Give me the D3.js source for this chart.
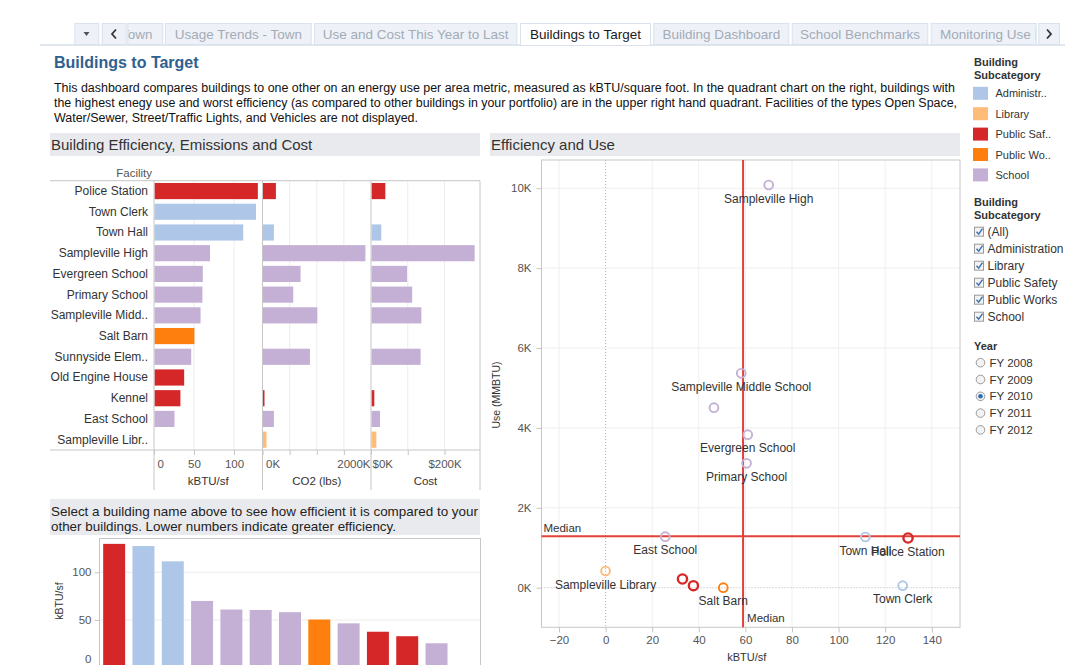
<!DOCTYPE html>
<html><head><meta charset="utf-8">
<script src="https://cdn.jsdelivr.net/npm/d3@7"></script>
<style>
html,body{margin:0;padding:0;background:#fff;overflow:hidden}
svg{display:block;font-family:"Liberation Sans",Arial,sans-serif}
</style></head><body>
<svg id="c" width="1065" height="665"></svg>
<script>
// ---------------- DATA ----------------
const facilities = ["Police Station","Town Clerk","Town Hall","Sampleville High","Evergreen School","Primary School","Sampleville Middle School","Salt Barn","Sunnyside Elementary","Old Engine House","Kennel","East School","Sampleville Library"];
const facilityLabels = ["Police Station","Town Clerk","Town Hall","Sampleville High","Evergreen School","Primary School","Sampleville Midd..","Salt Barn","Sunnyside Elem..","Old Engine House","Kennel","East School","Sampleville Libr.."];
const subcategories = ["Public Safety","Administration","Administration","School","School","School","School","Public Works","School","Public Safety","Public Safety","School","Library"];
const kbtuPerSf = [129.8,127.5,111.5,70,61,60.5,58.2,50.5,46.5,37.7,33,25.6,0];
const useMMBTU = [1244,50,1269,10080,3830,3114,5367,0,4506,50,218,1277,418];
const co2Klbs = [247,null,210,1897,702,567,1010,null,875,null,37,210,74];
const costK = [39,null,28,282,98,112,137,null,135,null,9,24.5,14.5];
const scatterLabeled = ["Sampleville High","Sampleville Middle School","Evergreen School","Primary School","East School","Town Hall","Police Station","Sampleville Library","Salt Barn","Town Clerk"];
const medianKbtu = 59;
const medianUse = 1290;

const categoryNames = ["Administration","Library","Public Safety","Public Works","School"];
const categoryLegendLabels = ["Administr..","Library","Public Saf..","Public Wo..","School"];
const categoryColors = ["#aec7e8","#ffbb78","#d62728","#ff7f0e","#c5b0d5"];
const filterItems = ["(All)","Administration","Library","Public Safety","Public Works","School"];
const yearItems = ["FY 2008","FY 2009","FY 2010","FY 2011","FY 2012"];
const selectedYear = "FY 2010";

const tabLabels = ["Town","Usage Trends - Town","Use and Cost This Year to Last","Buildings to Target","Building Dashboard","School Benchmarks","Monitoring Use I"];
const activeTab = "Buildings to Target";

const kbtuTicks = [0,50,100];
const kbtuGrid = [50,100];
const co2Ticks = [0,500,1000,1500,2000];
const co2Labeled = [0,2000];
const costTicks = [0,100,200];
const costLabeled = [0,200];
const scatterXTicks = [-20,0,20,40,60,80,100,120,140];
const scatterYTicks = [0,2000,4000,6000,8000,10000];
const bottomYTicks = [0,50,100];

const titleText = "Buildings to Target";
const descLines = [
 "This dashboard compares buildings to one other on an energy use per area metric, measured as kBTU/square foot. In the quadrant chart on the right, buildings with",
 "the highest enegy use and worst efficiency (as compared to other buildings in your portfolio) are in the upper right hand quadrant. Facilities of the types Open Space,",
 "Water/Sewer, Street/Traffic Lights, and Vehicles are not displayed."
];

// ---------------- SETUP ----------------
const svg = d3.select("#c");
const color = d3.scaleOrdinal(categoryNames, categoryColors);
const rows = facilities.map((f,i)=>({name:f,label:facilityLabels[i],cat:subcategories[i],kbtu:kbtuPerSf[i],use:useMMBTU[i],co2:co2Klbs[i],cost:costK[i]}));
const GRID="#ececec", FRAME="#c6c6c6", TXT="#333", TICK="#555";

// ---------------- TABS ----------------
const tabEdges = [[127.3,163.3],[165,311.7],[314,517.3],[520,651],[653.3,789.3],[791.7,928.3],[930.7,1036.7]];
const tabY0 = 23.5, tabY1 = 44.5;
svg.append("line").attr("x1",40).attr("x2",1065).attr("y1",45).attr("y2",45).attr("stroke","#e1e7ef").attr("stroke-width",2);
const defs = svg.append("defs");
[[74.3,99.3],[101.7,126.7],[1038.3,1060]].forEach(([a,b])=>{
  svg.append("rect").attr("x",a+0.5).attr("y",tabY0).attr("width",b-a-1).attr("height",tabY1-tabY0)
    .attr("fill","#eef2f8").attr("stroke","#dbe2ec");
});
svg.append("path").attr("d","M83.5,32 L89.5,32 L86.5,36 Z").attr("fill","#555");
svg.append("path").attr("d","M116,29.5 L112,34 L116,38.5").attr("fill","none").attr("stroke","#333").attr("stroke-width",1.8);
svg.append("path").attr("d","M1047,29.5 L1051,34 L1047,38.5").attr("fill","none").attr("stroke","#333").attr("stroke-width",1.8);
tabLabels.forEach((t,i)=>{
  const [a,b] = tabEdges[i];
  const active = t===activeTab;
  const cid = "tabclip"+i;
  defs.append("clipPath").attr("id",cid).append("rect").attr("x",a+1).attr("y",tabY0).attr("width",b-a-2).attr("height",tabY1-tabY0);
  svg.append("rect").attr("x",a+0.5).attr("y",tabY0).attr("width",b-a-1).attr("height",tabY1-tabY0+(active?1:0))
    .attr("fill",active?"#fff":"#eef2f8").attr("stroke","#dbe2ec");
  let tx, anchor;
  if(i===0){tx=121; anchor="start";}
  else if(i===tabLabels.length-1){tx=940; anchor="start";}
  else {tx=(a+b)/2; anchor="middle";}
  svg.append("text").attr("x",tx).attr("y",38.5).attr("text-anchor",anchor).attr("clip-path",`url(#${cid})`)
    .attr("font-size",13.5).attr("fill",active?"#1a1a1a":"#a3abb6").text(t);
});

// ---------------- TITLE & DESCRIPTION ----------------
svg.append("text").attr("x",54).attr("y",68).attr("font-size",16).attr("font-weight","bold").attr("fill","#2f6190").text(titleText);
const descLens=[901,903,364];
descLines.forEach((l,i)=>{
  svg.append("text").attr("x",54).attr("y",92+i*15).attr("font-size",12).attr("fill","#111")
    .attr("textLength",descLens[i]).attr("lengthAdjust","spacingAndGlyphs").text(l);
});

// ---------------- SECTION HEADERS ----------------
function band(x,y,w,h){svg.append("rect").attr("x",x).attr("y",y).attr("width",w).attr("height",h).attr("fill","#e9eaee");}
band(50,133,430,23);
svg.append("text").attr("x",51).attr("y",150).attr("font-size",15).attr("fill",TXT).text("Building Efficiency, Emissions and Cost");
band(490,133,470,23);
svg.append("text").attr("x",491).attr("y",150).attr("font-size",15).attr("fill",TXT).text("Efficiency and Use");

// ---------------- TOP TABLE (3 bar panes) ----------------
const rowTop=180.7, rowBot=450;
const yRow = d3.scaleBand().domain(facilities).range([rowTop,rowBot]).paddingInner(0.22).paddingOuter(0.11);
const xK = d3.scaleLinear().domain([0,135.6]).range([154,262.5]);
const xC = d3.scaleLinear().domain([0,2000]).range([262.5,371]);
const xCost = d3.scaleLinear().domain([0,296.5]).range([371,480]);

svg.append("text").attr("x",152).attr("y",177).attr("text-anchor","end").attr("font-size",11.5).attr("fill",TICK).text("Facility");

const gT = svg.append("g");
kbtuGrid.forEach(v=>gT.append("line").attr("x1",xK(v)).attr("x2",xK(v)).attr("y1",rowTop).attr("y2",rowBot).attr("stroke",GRID));
co2Ticks.filter(v=>v>0&&v<2000).forEach(v=>gT.append("line").attr("x1",xC(v)).attr("x2",xC(v)).attr("y1",rowTop).attr("y2",rowBot).attr("stroke",GRID));
costTicks.filter(v=>v>0).forEach(v=>gT.append("line").attr("x1",xCost(v)).attr("x2",xCost(v)).attr("y1",rowTop).attr("y2",rowBot).attr("stroke",GRID));

svg.append("g").selectAll("text").data(rows).join("text")
  .attr("x",148).attr("y",d=>yRow(d.name)+yRow.bandwidth()/2+4).attr("text-anchor","end")
  .attr("font-size",12).attr("fill",TXT).text(d=>d.label);

function paneBars(scale,key){
  svg.append("g").selectAll("rect").data(rows.filter(d=>d[key]!=null && d[key]>0)).join("rect")
    .attr("x",scale(0)+0.5).attr("y",d=>yRow(d.name)).attr("height",yRow.bandwidth())
    .attr("width",d=>Math.max(1.5,scale(d[key])-scale(0)-0.5)).attr("fill",d=>color(d.cat));
}
paneBars(xK,"kbtu"); paneBars(xC,"co2"); paneBars(xCost,"cost");

[[50,480,rowTop,rowTop],[50,480,rowBot,rowBot]].forEach(([x1,x2,y1,y2])=>svg.append("line").attr("x1",x1).attr("x2",x2).attr("y1",y1).attr("y2",y2).attr("stroke",FRAME));
[154,262.5,371,480].forEach(x=>svg.append("line").attr("x1",x).attr("x2",x).attr("y1",rowTop).attr("y2",490).attr("stroke",FRAME));

function paneAxis(scale,ticks,labeled,fmt){
  const g = svg.append("g").attr("transform",`translate(0,${rowBot})`)
    .call(d3.axisBottom(scale).tickValues(ticks).tickSize(5).tickPadding(5).tickFormat(v=>labeled.includes(v)?fmt(v):""));
  g.select(".domain").remove();
  g.selectAll(".tick line").attr("stroke",FRAME);
  g.selectAll(".tick text").attr("font-size",11.5).attr("fill",TICK).attr("font-family","Liberation Sans, Arial, sans-serif");
  return g;
}
const axK = paneAxis(xK,kbtuTicks,kbtuTicks,v=>String(v));
axK.selectAll(".tick text").filter(v=>v===0).attr("text-anchor","start").attr("dx",3);
const axC = paneAxis(xC,co2Ticks,co2Labeled,v=>v+"K");
axC.selectAll(".tick text").filter(v=>v===0).attr("text-anchor","start").attr("dx",3);
axC.selectAll(".tick text").filter(v=>v===2000).attr("text-anchor","end").attr("dx",-1);
const axCo = paneAxis(xCost,costTicks,costLabeled,v=>"$"+v+"K");
axCo.selectAll(".tick text").filter(v=>v===0).attr("text-anchor","start").attr("dx",1);
[["kBTU/sf",xK],["CO2 (lbs)",xC],["Cost",xCost]].forEach(([t,s])=>{
  const r=s.range();
  svg.append("text").attr("x",(r[0]+r[1])/2).attr("y",485).attr("text-anchor","middle").attr("font-size",11.5).attr("fill",TXT).text(t);
});

// ---------------- BOTTOM BAR CHART ----------------
band(50,499,430,36);
svg.append("text").attr("x",51).attr("y",516).attr("font-size",13.5).attr("fill","#222").attr("textLength",427).attr("lengthAdjust","spacingAndGlyphs").text("Select a building name above to see how efficient it is compared to your");
svg.append("text").attr("x",51).attr("y",530.5).attr("font-size",13.5).attr("fill","#222").attr("textLength",345).attr("lengthAdjust","spacingAndGlyphs").text("other buildings. Lower numbers indicate greater efficiency.");

const sorted = rows.slice().sort((a,b)=>b.kbtu-a.kbtu);
const xB = d3.scaleBand().domain(sorted.map(d=>d.name)).range([99.5,480.5]).paddingInner(0.25).paddingOuter(0.125);
const yB = d3.scaleLinear().domain([0,100]).range([667.7,572.3]);
bottomYTicks.filter(v=>v>0).forEach(v=>svg.append("line").attr("x1",99.5).attr("x2",480.5).attr("y1",yB(v)).attr("y2",yB(v)).attr("stroke",GRID));
svg.append("g").selectAll("rect").data(sorted.filter(d=>d.kbtu>0)).join("rect")
  .attr("x",d=>xB(d.name)).attr("width",xB.bandwidth()).attr("y",d=>yB(d.kbtu)).attr("height",d=>yB(0)-yB(d.kbtu)).attr("fill",d=>color(d.cat));
svg.append("rect").attr("x",99.5).attr("y",538.5).attr("width",381).attr("height",140).attr("fill","none").attr("stroke",FRAME);
const axB = svg.append("g").attr("transform","translate(99.5,0)").call(d3.axisLeft(yB).tickValues(bottomYTicks).tickSize(5).tickPadding(3));
axB.select(".domain").remove();
axB.selectAll(".tick line").attr("stroke",FRAME);
axB.selectAll(".tick text").attr("font-size",11.5).attr("fill",TICK).attr("font-family","Liberation Sans, Arial, sans-serif");
axB.selectAll(".tick text").filter(v=>v===0).attr("dy","-0.45em");
svg.append("text").attr("transform","translate(63,601) rotate(-90)").attr("text-anchor","middle").attr("font-size",10.5).attr("fill",TXT).text("kBTU/sf");

// ---------------- SCATTER ----------------
const sx0=541.5, sx1=960, sy0=160, sy1=627.3;
const xS = d3.scaleLinear().domain([-27.5,152.1]).range([sx0,sx1]);
const yS = d3.scaleLinear().domain([-991,10706]).range([sy1,sy0]);
const gS = svg.append("g");
scatterXTicks.filter(v=>v!==0).forEach(v=>gS.append("line").attr("x1",xS(v)).attr("x2",xS(v)).attr("y1",sy0).attr("y2",sy1).attr("stroke","#efefef"));
scatterYTicks.filter(v=>v!==0).forEach(v=>gS.append("line").attr("x1",sx0).attr("x2",sx1).attr("y1",yS(v)).attr("y2",yS(v)).attr("stroke","#efefef"));
gS.append("line").attr("x1",xS(0)).attr("x2",xS(0)).attr("y1",sy0).attr("y2",sy1).attr("stroke","#b5b5b5").attr("stroke-dasharray","1,2");
gS.append("line").attr("x1",sx0).attr("x2",sx1).attr("y1",yS(0)).attr("y2",yS(0)).attr("stroke","#b5b5b5").attr("stroke-dasharray","1,2");
gS.append("rect").attr("x",sx0).attr("y",sy0).attr("width",sx1-sx0).attr("height",sy1-sy0).attr("fill","none").attr("stroke",FRAME);

const axSX = svg.append("g").attr("transform",`translate(0,${sy1})`).call(d3.axisBottom(xS).tickValues(scatterXTicks).tickSize(5).tickPadding(4));
axSX.select(".domain").remove();
const axSY = svg.append("g").attr("transform",`translate(${sx0},0)`).call(d3.axisLeft(yS).tickValues(scatterYTicks).tickSize(5).tickPadding(5).tickFormat(v=>(v/1000)+"K"));
axSY.select(".domain").remove();
[axSX,axSY].forEach(a=>{a.selectAll(".tick line").attr("stroke",FRAME);a.selectAll(".tick text").attr("font-size",11.5).attr("fill",TICK).attr("font-family","Liberation Sans, Arial, sans-serif");});
svg.append("text").attr("x",(sx0+sx1)/2-4).attr("y",661).attr("text-anchor","middle").attr("font-size",11).attr("fill",TXT).text("kBTU/sf");
svg.append("text").attr("transform","translate(500,395) rotate(-90)").attr("text-anchor","middle").attr("font-size",10.5).attr("fill",TXT).text("Use (MMBTU)");

const MED="#e2403a";
svg.append("line").attr("x1",sx0).attr("x2",sx1).attr("y1",yS(medianUse)).attr("y2",yS(medianUse)).attr("stroke",MED).attr("stroke-width",2);
svg.append("line").attr("x1",xS(medianKbtu)).attr("x2",xS(medianKbtu)).attr("y1",sy0).attr("y2",sy1).attr("stroke",MED).attr("stroke-width",2);
svg.append("text").attr("x",sx0+2).attr("y",yS(medianUse)-4).attr("font-size",11.5).attr("fill",TXT).text("Median");
svg.append("text").attr("x",xS(medianKbtu)+4).attr("y",sy1-5).attr("font-size",11.5).attr("fill",TXT).text("Median");

svg.append("g").selectAll("circle").data(rows).join("circle")
  .attr("cx",d=>xS(d.kbtu)).attr("cy",d=>yS(d.use)).attr("r",d=>d.cat==="Public Safety"?4.6:4.4)
  .attr("fill","none").attr("stroke",d=>color(d.cat)).attr("stroke-width",d=>d.cat==="Public Safety"?2.4:1.9);
svg.append("g").selectAll("text").data(rows.filter(d=>scatterLabeled.includes(d.name))).join("text")
  .attr("x",d=>xS(d.kbtu)).attr("y",d=>yS(d.use)+17.5).attr("text-anchor","middle")
  .attr("font-size",12).attr("fill",TXT).text(d=>d.name);

// ---------------- LEGEND / FILTERS ----------------
const L = svg.append("g");
L.append("text").attr("x",974).attr("y",66).attr("font-size",11).attr("font-weight","bold").attr("fill",TXT).text("Building");
L.append("text").attr("x",974).attr("y",79).attr("font-size",11).attr("font-weight","bold").attr("fill",TXT).text("Subcategory");
categoryNames.forEach((c,i)=>{
  const y = 93.3 + i*20.4;
  L.append("rect").attr("x",973).attr("y",y-6.5).attr("width",15).attr("height",13).attr("fill",color(c));
  L.append("text").attr("x",995.5).attr("y",y+4).attr("font-size",11).attr("fill",TXT).text(categoryLegendLabels[i]);
});
L.append("text").attr("x",974).attr("y",205.5).attr("font-size",11).attr("font-weight","bold").attr("fill",TXT).text("Building");
L.append("text").attr("x",974).attr("y",218.5).attr("font-size",11).attr("font-weight","bold").attr("fill",TXT).text("Subcategory");
filterItems.forEach((t,i)=>{
  const y = 231.7 + i*17;
  L.append("rect").attr("x",974.5).attr("y",y-4.5).attr("width",9).attr("height",9).attr("fill","#f3f3f3").attr("stroke","#9a9a9a");
  L.append("path").attr("d",`M976.5,${y} L978.7,${y+2.5} L982.5,${y-3}`).attr("fill","none").attr("stroke","#3a6fb0").attr("stroke-width",1.4);
  L.append("text").attr("x",987.5).attr("y",y+4).attr("font-size",12).attr("fill",TXT).text(t);
});
L.append("text").attr("x",974).attr("y",349.5).attr("font-size",11).attr("font-weight","bold").attr("fill",TXT).text("Year");
yearItems.forEach((t,i)=>{
  const y = 362.7 + i*16.8;
  L.append("circle").attr("cx",980.5).attr("cy",y).attr("r",4.3).attr("fill","#f3f3f3").attr("stroke","#9a9a9a");
  if(t===selectedYear) L.append("circle").attr("cx",980.5).attr("cy",y).attr("r",2.3).attr("fill","#2a6fb5");
  L.append("text").attr("x",989.5).attr("y",y+4).attr("font-size",11.5).attr("fill",TXT).text(t);
});
</script>
</body></html>
